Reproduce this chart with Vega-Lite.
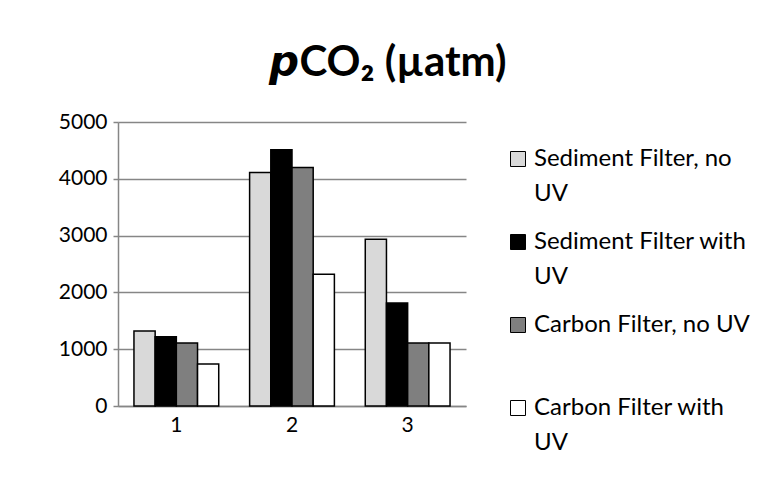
{
  "$schema": "https://vega.github.io/schema/vega-lite/v6.json",
  "width": 348,
  "height": 284,
  "autosize": "none",
  "padding": {"left": 118, "top": 122, "right": 293, "bottom": 81},
  "background": "white",
  "title": {
    "text": "𝙥CO₂ (µatm)",
    "font": "Lato",
    "fontSize": 42,
    "fontWeight": "bold",
    "color": "#000000",
    "anchor": "middle",
    "frame": "group",
    "dx": 96,
    "baseline": "alphabetic",
    "offset": -7
  },
  "data": {
    "values": [
      {"group": "1", "series": "Sediment Filter, no UV", "value": 1320},
      {"group": "1", "series": "Sediment Filter with UV", "value": 1220},
      {"group": "1", "series": "Carbon Filter, no UV", "value": 1110},
      {"group": "1", "series": "Carbon Filter with UV", "value": 740},
      {"group": "2", "series": "Sediment Filter, no UV", "value": 4110},
      {"group": "2", "series": "Sediment Filter with UV", "value": 4510},
      {"group": "2", "series": "Carbon Filter, no UV", "value": 4200},
      {"group": "2", "series": "Carbon Filter with UV", "value": 2320},
      {"group": "3", "series": "Sediment Filter, no UV", "value": 2935},
      {"group": "3", "series": "Sediment Filter with UV", "value": 1815},
      {"group": "3", "series": "Carbon Filter, no UV", "value": 1110},
      {"group": "3", "series": "Carbon Filter with UV", "value": 1110}
    ]
  },
  "mark": {"type": "bar", "stroke": "#000000", "strokeWidth": 1.5},
  "encoding": {
    "x": {
      "field": "group",
      "type": "nominal",
      "scale": {"paddingInner": 0.267, "paddingOuter": 0.138},
      "axis": {
        "title": null,
        "labelAngle": 0,
        "labelFont": "Lato",
        "labelFontSize": 21,
        "labelColor": "#000000",
        "labelPadding": 8,
        "ticks": false,
        "domainColor": "#868686",
        "domainWidth": 1.5
      }
    },
    "xOffset": {
      "field": "series",
      "type": "nominal",
      "sort": ["Sediment Filter, no UV", "Sediment Filter with UV", "Carbon Filter, no UV", "Carbon Filter with UV"],
      "scale": {"paddingInner": 0, "paddingOuter": 0}
    },
    "y": {
      "field": "value",
      "type": "quantitative",
      "scale": {"domain": [0, 5000]},
      "axis": {
        "title": null,
        "values": [0, 1000, 2000, 3000, 4000, 5000],
        "format": "d",
        "labelFont": "Lato",
        "labelFontSize": 21,
        "labelColor": "#000000",
        "labelPadding": 6,
        "tickSize": 5,
        "tickColor": "#868686",
        "tickWidth": 1.5,
        "domainColor": "#868686",
        "domainWidth": 1.5,
        "grid": true,
        "gridColor": "#868686",
        "gridWidth": 1.5
      }
    },
    "fill": {
      "field": "series",
      "type": "nominal",
      "sort": ["Sediment Filter, no UV", "Sediment Filter with UV", "Carbon Filter, no UV", "Carbon Filter with UV"],
      "scale": {
        "domain": ["Sediment Filter, no UV", "Sediment Filter with UV", "Carbon Filter, no UV", "Carbon Filter with UV"],
        "range": ["#D9D9D9", "#000000", "#7F7F7F", "#FFFFFF"]
      },
      "legend": {
        "title": null,
        "orient": "none",
        "legendX": 388,
        "legendY": 25,
        "symbolType": "square",
        "symbolSize": 225,
        "symbolStrokeColor": "#000000",
        "symbolStrokeWidth": 1,
        "symbolOpacity": 1,
        "labelFont": "Lato",
        "labelFontSize": 24,
        "labelColor": "#000000",
        "labelLimit": 300,
        "labelOffset": 4,
        "rowPadding": 24,
        "labelExpr": "datum.label == 'Sediment Filter, no UV' ? ['Sediment Filter, no', 'UV'] : datum.label == 'Sediment Filter with UV' ? ['Sediment Filter with', 'UV'] : datum.label == 'Carbon Filter, no UV' ? ['Carbon Filter, no UV', ''] : ['Carbon Filter with', 'UV']"
      }
    }
  },
  "config": {
    "view": {"stroke": null},
    "axis": {"gridCap": "butt"},
    "style": {"guide-label": {"lineHeight": 35}}
  }
}
